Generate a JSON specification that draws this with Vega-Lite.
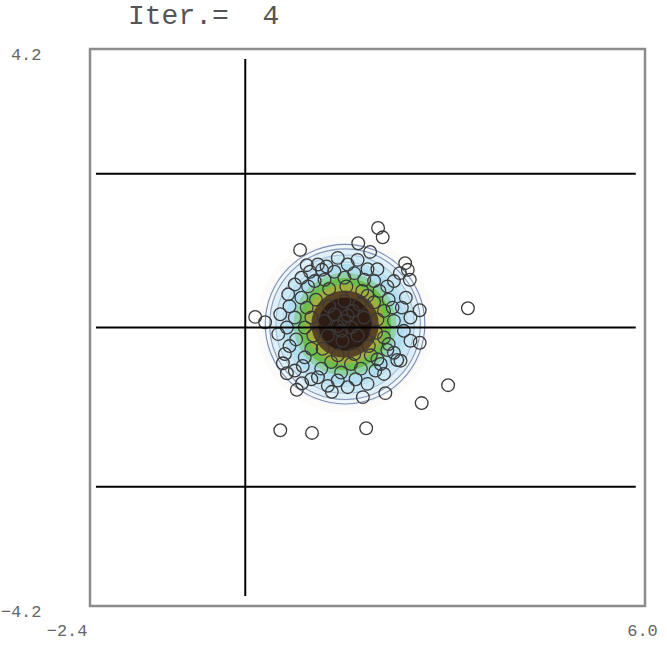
{
  "$schema": "https://vega.github.io/schema/vega-lite/v6.json",
  "autosize": "none",
  "width": 555,
  "height": 557,
  "padding": {"left": 90, "top": 49, "right": 22, "bottom": 46},
  "background": "white",
  "title": {"text": "Iter.=\u00a0\u00a04", "anchor": "start", "frame": "group", "dx": 38, "offset": 15, "font": "Liberation Mono", "fontSize": 28, "fontWeight": "normal", "color": "#555555"},
  "config": {"view": {"stroke": "#8c8c8c", "strokeWidth": 2.5}},
  "datasets": {
    "discs": [
      {"cx": 1.46, "cy": 0.05, "s": 31416, "c": "#fdfbf9"},
      {"cx": 1.46, "cy": 0.05, "s": 26590, "c": "#f0f7fb"},
      {"cx": 1.46, "cy": 0.05, "s": 23235, "c": "#e0f0f8"},
      {"cx": 1.46, "cy": 0.05, "s": 19113, "c": "#cbe9f4"},
      {"cx": 1.46, "cy": 0.05, "s": 14527, "c": "#b0def0"},
      {"cx": 1.46, "cy": 0.05, "s": 10568, "c": "#8fd0a8"},
      {"cx": 1.46, "cy": 0.05, "s": 8495, "c": "#6cbf4c"},
      {"cx": 1.46, "cy": 0.05, "s": 6362, "c": "#a0b040"},
      {"cx": 1.46, "cy": 0.05, "s": 4536, "c": "#5a4424"},
      {"cx": 1.46, "cy": 0.05, "s": 2827, "c": "#2e1c14"}
    ],
    "rings": [
      {"cx": 1.46, "cy": 0.05, "s": 25447, "c": "#7f8cb0"},
      {"cx": 1.46, "cy": 0.05, "s": 22698, "c": "#8a96b8"},
      {"cx": 1.46, "cy": 0.05, "s": 19113, "c": "#a8bcd8"},
      {"cx": 1.46, "cy": 0.05, "s": 15394, "c": "#b4d4e8"}
    ],
    "points": [
      {"x": 1.96, "y": 1.50}, {"x": 2.03, "y": 1.36}, {"x": 1.66, "y": 1.27}, {"x": 1.84, "y": 1.14},
      {"x": 0.78, "y": 1.17}, {"x": 0.88, "y": 0.94}, {"x": 0.93, "y": 0.84}, {"x": 1.11, "y": 0.87},
      {"x": 0.10, "y": 0.16}, {"x": 0.25, "y": 0.08}, {"x": 3.32, "y": 0.29}, {"x": 3.02, "y": -0.87},
      {"x": 2.62, "y": -1.14}, {"x": 0.48, "y": -1.55}, {"x": 0.96, "y": -1.59}, {"x": 1.78, "y": -1.52},
      {"x": 2.37, "y": 0.97}, {"x": 2.41, "y": 0.87}, {"x": 2.29, "y": 0.82}, {"x": 2.59, "y": 0.26},
      {"x": 2.59, "y": -0.23}, {"x": 0.52, "y": -0.54}, {"x": 0.58, "y": -0.69}, {"x": 0.73, "y": -0.94},
      {"x": 0.81, "y": -0.84}, {"x": 1.26, "y": -0.97}, {"x": 1.73, "y": -1.05}, {"x": 2.07, "y": -0.99},
      {"x": 2.25, "y": -0.49}, {"x": 2.10, "y": -0.34}, {"x": 2.44, "y": 0.72},
      {"x": 2.45, "y": 0.15}, {"x": 2.38, "y": 0.45}, {"x": 2.20, "y": 0.70}, {"x": 1.95, "y": 0.88},
      {"x": 1.65, "y": 1.02}, {"x": 1.35, "y": 1.05}, {"x": 1.05, "y": 0.95}, {"x": 0.80, "y": 0.75},
      {"x": 0.60, "y": 0.50}, {"x": 0.48, "y": 0.20}, {"x": 0.45, "y": -0.10}, {"x": 0.55, "y": -0.40},
      {"x": 0.70, "y": -0.65}, {"x": 0.95, "y": -0.78}, {"x": 1.20, "y": -0.88}, {"x": 1.50, "y": -0.90},
      {"x": 1.80, "y": -0.85}, {"x": 2.05, "y": -0.70}, {"x": 2.30, "y": -0.50}, {"x": 2.45, "y": -0.20},
      {"x": 2.20, "y": 0.10}, {"x": 2.12, "y": 0.42}, {"x": 1.90, "y": 0.70}, {"x": 1.60, "y": 0.82},
      {"x": 1.30, "y": 0.84}, {"x": 1.00, "y": 0.70}, {"x": 0.80, "y": 0.45}, {"x": 0.70, "y": 0.15},
      {"x": 0.72, "y": -0.18}, {"x": 0.85, "y": -0.45}, {"x": 1.10, "y": -0.62}, {"x": 1.40, "y": -0.68},
      {"x": 1.70, "y": -0.62}, {"x": 1.95, "y": -0.48}, {"x": 2.12, "y": -0.25}, {"x": 2.18, "y": 0.30},
      {"x": 1.95, "y": 0.12}, {"x": 1.90, "y": 0.38}, {"x": 1.72, "y": 0.55}, {"x": 1.48, "y": 0.62},
      {"x": 1.22, "y": 0.58}, {"x": 1.02, "y": 0.42}, {"x": 0.95, "y": 0.15}, {"x": 0.98, "y": -0.12},
      {"x": 1.12, "y": -0.32}, {"x": 1.35, "y": -0.42}, {"x": 1.60, "y": -0.40}, {"x": 1.82, "y": -0.28},
      {"x": 1.93, "y": -0.08}, {"x": 1.80, "y": 0.48},
      {"x": 1.75, "y": 0.15}, {"x": 1.68, "y": 0.35}, {"x": 1.45, "y": 0.40}, {"x": 1.22, "y": 0.32},
      {"x": 1.15, "y": 0.10}, {"x": 1.20, "y": -0.12}, {"x": 1.42, "y": -0.20}, {"x": 1.65, "y": -0.12},
      {"x": 1.58, "y": 0.25}, {"x": 1.30, "y": 0.20},
      {"x": 1.45, "y": 0.10}, {"x": 1.55, "y": 0.00}, {"x": 1.35, "y": 0.02}, {"x": 1.50, "y": 0.18},
      {"x": 1.40, "y": -0.05},
      {"x": 2.32, "y": 0.30}, {"x": 2.10, "y": 0.62}, {"x": 1.80, "y": 0.88}, {"x": 1.50, "y": 0.95},
      {"x": 1.18, "y": 0.92}, {"x": 0.90, "y": 0.62}, {"x": 0.62, "y": 0.32}, {"x": 0.58, "y": 0.00},
      {"x": 0.62, "y": -0.28}, {"x": 0.82, "y": -0.58}, {"x": 1.05, "y": -0.75}, {"x": 1.35, "y": -0.80},
      {"x": 1.62, "y": -0.78}, {"x": 1.92, "y": -0.65}, {"x": 2.20, "y": -0.38}, {"x": 2.35, "y": -0.05},
      {"x": 0.70, "y": 0.65}, {"x": 2.00, "y": -0.55},
      {"x": 2.05, "y": 0.25}, {"x": 1.98, "y": 0.55}, {"x": 1.75, "y": 0.72}, {"x": 1.15, "y": 0.72},
      {"x": 0.88, "y": 0.30}, {"x": 0.85, "y": 0.00}, {"x": 0.95, "y": -0.32}, {"x": 1.25, "y": -0.52},
      {"x": 1.55, "y": -0.55}, {"x": 1.85, "y": -0.42}, {"x": 2.05, "y": -0.15}, {"x": 1.45, "y": 0.75}
    ],
    "lines": [
      {"x1": -2.31, "x2": 5.86, "y1": 2.32, "y2": 2.32},
      {"x1": -2.31, "x2": 5.86, "y1": 0.0, "y2": 0.0},
      {"x1": -2.31, "x2": 5.86, "y1": -2.4, "y2": -2.4},
      {"x1": -0.05, "x2": -0.05, "y1": 4.05, "y2": -4.05}
    ]
  },
  "layer": [
    {
      "data": {"name": "discs"},
      "mark": {"type": "point", "shape": "circle", "filled": true, "opacity": 1, "strokeWidth": 0},
      "encoding": {
        "x": {"field": "cx", "type": "quantitative", "scale": {"domain": [-2.4, 6.0], "nice": false, "zero": false},
              "axis": {"values": [-2.4, 6.0], "format": ".1f", "title": null, "ticks": false, "domain": false, "grid": false,
                       "labelFont": "Liberation Mono", "labelFontSize": 17, "labelColor": "#666666", "labelPadding": 16,
                       "labelAlign": {"expr": "datum.value < 0 ? 'right' : 'center'"}, "labelOffset": -3, "labelFlush": false, "labelOverlap": false}},
        "y": {"field": "cy", "type": "quantitative", "scale": {"domain": [-4.2, 4.2], "nice": false, "zero": false},
              "axis": {"values": [-4.2, 4.2], "format": ".1f", "title": null, "ticks": false, "domain": false, "grid": false,
                       "labelFont": "Liberation Mono", "labelFontSize": 17, "labelColor": "#666666", "labelPadding": 49,
                       "labelAlign": "right", "labelBaseline": "top", "labelOffset": -3, "labelFlush": false, "labelOverlap": false}},
        "size": {"field": "s", "type": "quantitative", "scale": null},
        "fill": {"field": "c", "type": "nominal", "scale": null}
      }
    },
    {
      "data": {"name": "rings"},
      "mark": {"type": "point", "shape": "circle", "filled": false, "opacity": 1, "strokeWidth": 1.1},
      "encoding": {
        "x": {"field": "cx", "type": "quantitative"},
        "y": {"field": "cy", "type": "quantitative"},
        "size": {"field": "s", "type": "quantitative", "scale": null},
        "stroke": {"field": "c", "type": "nominal", "scale": null}
      }
    },
    {
      "data": {"name": "points"},
      "mark": {"type": "point", "shape": "circle", "filled": false, "opacity": 1, "size": 160, "stroke": "#3a3a3a", "strokeWidth": 1.3},
      "encoding": {
        "x": {"field": "x", "type": "quantitative"},
        "y": {"field": "y", "type": "quantitative"}
      }
    },
    {
      "data": {"name": "lines"},
      "mark": {"type": "rule", "color": "#000000", "strokeWidth": 2},
      "encoding": {
        "x": {"field": "x1", "type": "quantitative"},
        "x2": {"field": "x2"},
        "y": {"field": "y1", "type": "quantitative"},
        "y2": {"field": "y2"}
      }
    }
  ]
}
